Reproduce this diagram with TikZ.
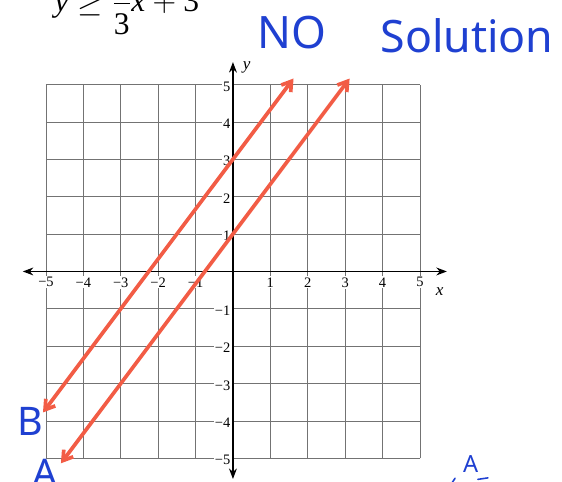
\documentclass[tikz,border=0pt]{standalone}
\usepackage{fontspec}
\setmainfont{Liberation Serif}
\newfontfamily\handfont{Noto Sans}
\usetikzlibrary{arrows.meta}
\definecolor{inkblue}{rgb}{0.12,0.25,0.82}
\definecolor{penred}{rgb}{0.95,0.36,0.27}

\begin{document}
\begin{tikzpicture}[
  gridline/.style={draw=black!55, line width=0.6pt},
  axisline/.style={{Stealth[length=8pt,width=6pt]}-{Stealth[length=8pt,width=6pt]}, line width=0.9pt},
  graphline/.style={{Straight Barb[length=7pt,width=9pt]}-{Straight Barb[length=7pt,width=9pt]}, draw=penred, line width=2.8pt},
  ticklabel/.style={font=\fontsize{11}{13}\selectfont, fill=white, inner sep=1pt},
  handnote/.style={font=\handfont\fontsize{34}{40}\selectfont, text=inkblue},
  handletter/.style={font=\handfont\fontsize{30}{36}\selectfont, text=inkblue}
]
  \useasboundingbox (-6.23,-5.63) rectangle (8.80,7.26);

  \draw[gridline] (-5,-5) grid (5,5);

  \coordinate (xleft) at (-5.62,0);
  \coordinate (xright) at (5.72,0);
  \coordinate (ybottom) at (0,-5.55);
  \coordinate (ytop) at (0,5.6);
  \draw[axisline] (xleft) -- (xright);
  \draw[axisline] (ybottom) -- (ytop);

  \foreach \n in {1,...,5} {
    \node[ticklabel, anchor=north] (xpos\n) at (\n,-0.12) {\n};
    \node[ticklabel, anchor=north] (xneg\n) at (-\n,-0.12) {−\n};
    \node[ticklabel, anchor=east] (ypos\n) at (-0.03,\n-0.05) {\n};
    \node[ticklabel, anchor=east] (yneg\n) at (-0.03,-\n-0.05) {−\n};
  }
  \node[font=\fontsize{13}{15}\selectfont\itshape] (xlabel) at (5.53,-0.55) {x};
  \node[font=\fontsize{13}{15}\selectfont\itshape] (ylabel) at (0.37,5.47) {y};

  \node[anchor=base west, font=\fontsize{24}{28}\selectfont] (ineq) at (-4.89,6.95)
    {$\mbox{\itshape y} \geq \displaystyle\frac{\mbox{4}}{\mbox{3}}\mbox{\itshape x} + \mbox{3}$};

  \coordinate (blow) at (-5.08,-3.77);
  \coordinate (bhigh) at (1.62,5.16);
  \coordinate (alow) at (-4.6,-5.13);
  \coordinate (ahigh) at (3.12,5.16);
  \draw[graphline] (blow) -- (bhigh);
  \draw[graphline] (alow) -- (ahigh);

  \node[handnote] (nonote) at (1.58,6.40) {NO};
  \node[handnote] (solnote) at (6.26,6.30) {Solution};
  \node[handletter] (bnote) at (-5.43,-4.00) {B};
  \node[handletter] (anote) at (-5.03,-5.40) {A};
  \node[handnote, font=\handfont\fontsize{18}{20}\selectfont] (asmall) at (6.36,-5.16) {A};
  \draw[inkblue, line width=1.2pt, line cap=round] (6.55,-5.56) -- (6.82,-5.52);
  \draw[inkblue, line width=1.2pt, line cap=round] (5.86,-5.65) -- (5.94,-5.53);
\end{tikzpicture}
\end{document}
